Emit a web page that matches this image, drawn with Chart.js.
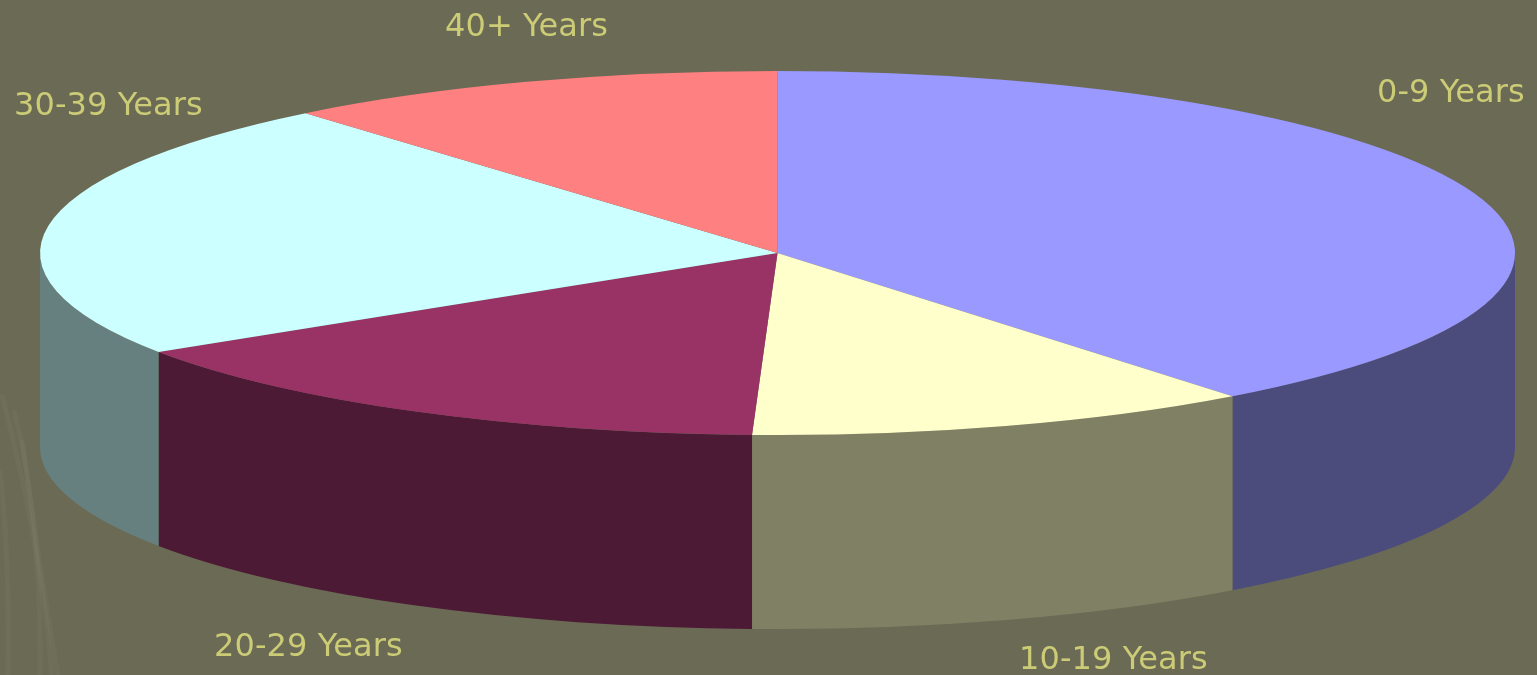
<!DOCTYPE html>
<html><head><meta charset="utf-8">
<style>html,body{margin:0;padding:0;background:#6b6a55;overflow:hidden}#wrap{width:1537px;height:675px;position:relative}canvas{display:block}</style>
<script src="https://cdn.jsdelivr.net/npm/chart.js@4"></script></head>
<body><div id="wrap"><canvas id="c" width="1537" height="675"></canvas></div>
<script>
const categories = ['0-9 Years','10-19 Years','20-29 Years','30-39 Years','40+ Years'];
const shares = [39.42,11.13,15.3,23.1,11.05];
const faceColors = ['#9999ff','#ffffcc','#993366','#ccffff','#ff8080'];
const sideColors = ['#4c4c7c','#808064','#4c1a34','#668080','#7f4040'];
const labelAnchors = [[1377,102],[1019,669],[214,656],[14,115],[445,36]];
const RX = 737.5, RY = 182, DEPTH = 194, TEXT = '#cccc77';
const FONT = '32px "DejaVu Sans",sans-serif';

const pie3d = {
  id:'pie3d',
  beforeDraw(chart){
    const {ctx} = chart;
    ctx.save();
    ctx.fillStyle='#6b6a55';
    ctx.fillRect(0,0,chart.width,chart.height);
    ctx.strokeStyle='rgba(135,135,115,0.16)';
    ctx.lineWidth=5;
    [[2,395,40,540,52,675],[14,410,42,520,40,675],[0,470,10,560,8,675],[22,440,38,560,58,675]].forEach(s=>{
      ctx.beginPath();ctx.moveTo(s[0],s[1]);ctx.quadraticCurveTo(s[2],s[3],s[4],s[5]);ctx.stroke();
    });
    ctx.restore();
  },
  beforeDatasetDraw(chart){
    const {ctx} = chart, arcs = chart.getDatasetMeta(0).data;
    const cx = arcs[0].x, cy = arcs[0].y;
    arcs.forEach((arc,i)=>{
      const a = Math.max(arc.startAngle,0), b = Math.min(arc.endAngle,Math.PI);
      if(a>=b) return;
      ctx.beginPath();
      ctx.ellipse(cx,cy,RX,RY,0,a,b,false);
      ctx.ellipse(cx,cy+DEPTH,RX,RY,0,b,a,true);
      ctx.closePath();
      ctx.fillStyle = sideColors[i];
      ctx.fill();
    });
    ctx.save();
    ctx.translate(cx,cy);
    ctx.scale(1,RY/RX);
    ctx.translate(-cx,-cy);
  },
  afterDatasetDraw(chart){ chart.ctx.restore(); },
  afterDraw(chart){
    const {ctx} = chart;
    ctx.save();
    ctx.font = FONT;
    ctx.letterSpacing = '0.1px';
    ctx.fillStyle = TEXT;
    ctx.textAlign='left';ctx.textBaseline='alphabetic';
    categories.forEach((t,i)=>ctx.fillText(t,labelAnchors[i][0],labelAnchors[i][1]));
    ctx.restore();
  }
};

new Chart(document.getElementById('c'),{
  type:'pie',
  data:{labels:categories,datasets:[{data:shares,backgroundColor:faceColors,borderWidth:0,radius:RX}]},
  options:{responsive:false,animation:false,
    layout:{padding:{left:18,bottom:169}},
    plugins:{legend:{display:false},tooltip:{enabled:false}}},
  plugins:[pie3d]
});
</script></body></html>
